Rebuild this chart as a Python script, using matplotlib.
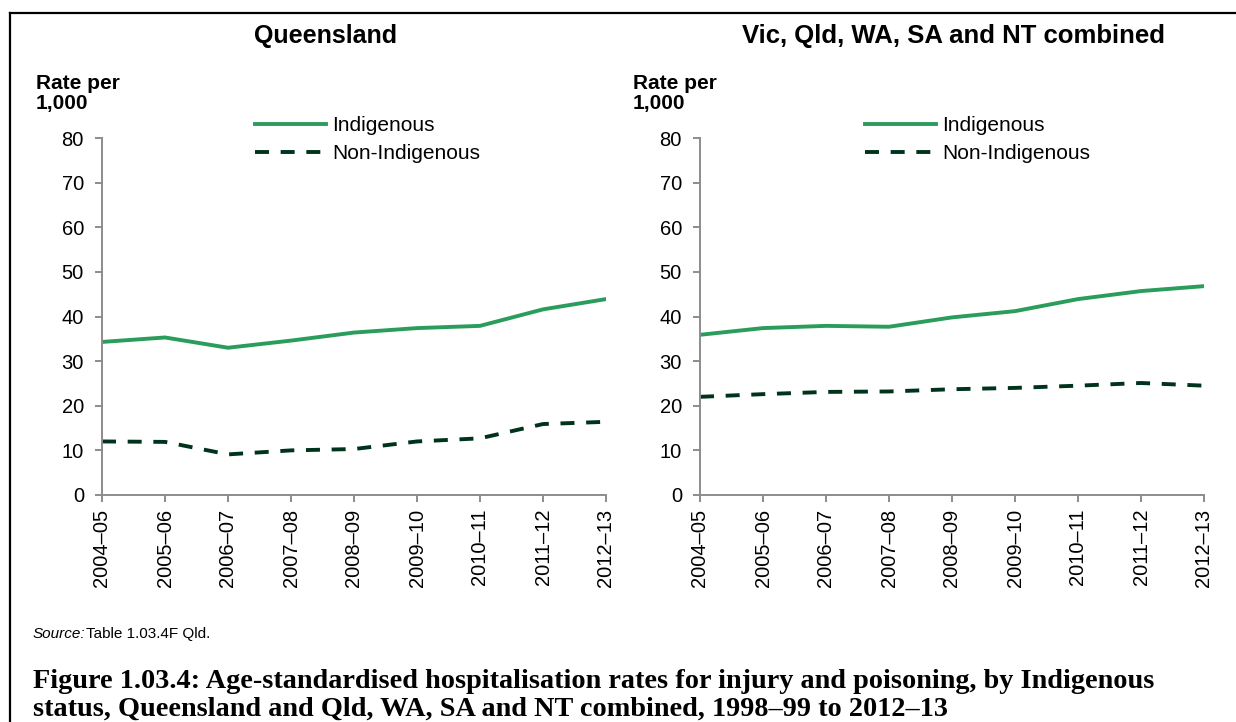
import matplotlib.pyplot as plt
from matplotlib.lines import Line2D

plt.rcParams['font.family'] = ['Liberation Sans', 'DejaVu Sans']

years = ['2004–05', '2005–06', '2006–07', '2007–08', '2008–09',
         '2009–10', '2010–11', '2011–12', '2012–13']

qld_indig = [34.3, 35.3, 33.0, 34.6, 36.4, 37.4, 37.9, 41.6, 43.9]
qld_non = [12.0, 11.9, 9.1, 10.0, 10.3, 12.0, 12.7, 15.9, 16.4]

comb_indig = [35.9, 37.4, 37.9, 37.7, 39.8, 41.2, 43.9, 45.7, 46.8]
comb_non = [22.0, 22.6, 23.1, 23.2, 23.7, 24.0, 24.5, 25.1, 24.5]

titles = ['Queensland', 'Vic, Qld, WA, SA and NT combined']

green = '#2a9d5c'
dark = '#00331b'
grey = '#8c8c8c'
W, H = 1236, 722

fig = plt.figure(figsize=(12.36, 7.22), dpi=100)

panels = [
    (102, qld_indig, qld_non, titles[0], 326, 36, 255),
    (700, comb_indig, comb_non, titles[1], 953, 633, 865),
]

x = list(range(len(years)))
for left, indig, non, title, tx, rx, lx in panels:
    ax = fig.add_axes([left / W, 1 - 495 / H, 504 / W, 357 / H])
    ax.plot(x, indig, color=green, lw=2.8, label='Indigenous')
    ax.plot(x, non, color=dark, lw=2.8, dashes=(3.6, 3.0), label='Non-Indigenous')
    ax.set_xlim(0, 8)
    ax.set_ylim(0, 80)
    ax.set_yticks(range(0, 81, 10))
    ax.set_xticks(x)
    ax.set_xticklabels(years, rotation=90)
    for s in ['top', 'right']:
        ax.spines[s].set_visible(False)
    for s in ['left', 'bottom']:
        ax.spines[s].set_color(grey)
        ax.spines[s].set_linewidth(1.4)
    ax.tick_params(axis='both', colors=grey, labelcolor='black', labelsize=14.5,
                   length=5, width=1.4, direction='out')
    ax.tick_params(axis='y', pad=8)
    ax.tick_params(axis='x', pad=5)
    ax.legend(loc='upper left', bbox_to_anchor=(lx / W, 1 - 116 / H),
              bbox_transform=fig.transFigure, frameon=False, fontsize=15,
              handlelength=3.4, handletextpad=0.3, borderpad=0, borderaxespad=0,
              labelspacing=0.45)
    fig.text(tx / W, 1 - 36 / H, title, ha='center', va='center',
             fontsize=18.5 if tx > 600 else 18, fontweight='bold')
    fig.text(rx / W, 1 - 74 / H, 'Rate per\n1,000', ha='left', va='top',
             fontsize=15, fontweight='bold', linespacing=1.1)

fig.text(33 / W, 1 - 634 / H, 'Source:', style='italic', fontsize=11, va='center')
fig.text(86 / W, 1 - 634 / H, 'Table 1.03.4F Qld.', fontsize=11, va='center')
fig.text(33 / W, 1 - 688 / H,
         'Figure 1.03.4: Age-standardised hospitalisation rates for injury and poisoning, by Indigenous',
         family='Liberation Serif', fontweight='bold', fontsize=20.3, va='baseline')
fig.text(33 / W, 1 - 716 / H,
         'status, Queensland and Qld, WA, SA and NT combined, 1998–99 to 2012–13',
         family='Liberation Serif', fontweight='bold', fontsize=20.3, va='baseline')

fig.add_artist(Line2D([9.5 / W, 1], [1 - 12.5 / H, 1 - 12.5 / H], color='black', lw=1.6))
fig.add_artist(Line2D([9.5 / W, 9.5 / W], [0, 1 - 12.5 / H], color='black', lw=1.6))

fig.savefig('out.png', dpi=100)
